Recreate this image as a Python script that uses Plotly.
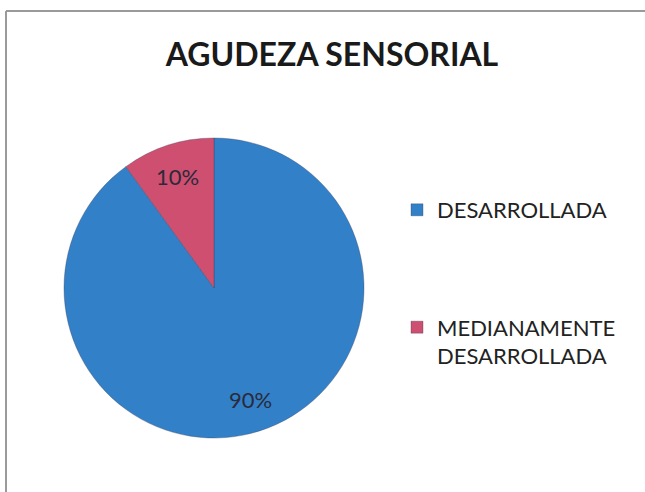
import math
import plotly.graph_objects as go

# Datos del gráfico
categorias = ["DESARROLLADA", "MEDIANAMENTE<br>DESARROLLADA"]
porcentajes = [90, 10]
colores = ["#3180c8", "#cf4f70"]

ANCHO, ALTO = 645, 492
FUENTE = "Lato, Open Sans, sans-serif"


def px_x(v):
    return v / ANCHO


def px_y(v):
    return 1 - v / ALTO


# Geometría del pastel (píxeles)
cx, cy, radio = 214, 288, 150

fig = go.Figure()

fig.add_trace(go.Pie(
    labels=[c if i else c + "<br> <br> <br> " for i, c in enumerate(categorias)],
    values=porcentajes,
    sort=False,
    direction="clockwise",
    rotation=0,
    marker=dict(colors=colores, line=dict(color="rgba(60,60,90,0.35)", width=1)),
    textinfo="none",
    hoverinfo="percent",
    domain=dict(x=[px_x(cx - radio), px_x(cx + radio)],
                y=[px_y(cy + radio), px_y(cy - radio)]),
))

# Etiquetas de porcentaje en el punto medio angular de cada sector
total = sum(porcentajes)
acum = 0
for v in porcentajes:
    medio = (acum + v / 2) / total * 360  # grados desde las 12, sentido horario
    acum += v
    r = 0.78 * radio
    x = cx + r * math.sin(math.radians(medio))
    y = cy - r * math.cos(math.radians(medio))
    fig.add_annotation(
        x=px_x(x), y=px_y(y), xref="paper", yref="paper",
        xanchor="center", yanchor="middle",
        text=f"{v / total:.0%}", showarrow=False,
        font=dict(family=FUENTE, size=22, color="#2a2a3a"),
    )

# Marco del área del gráfico (bordes superior e izquierdo visibles)
fig.add_shape(type="line", xref="paper", yref="paper",
              x0=px_x(6), x1=1.05, y0=px_y(11), y1=px_y(11),
              line=dict(color="#9a9a9a", width=2))
fig.add_shape(type="line", xref="paper", yref="paper",
              x0=px_x(6), x1=px_x(6), y0=-0.05, y1=px_y(11),
              line=dict(color="#9a9a9a", width=2))

fig.update_layout(
    width=ANCHO,
    height=ALTO,
    title=dict(
        text="<b>AGUDEZA SENSORIAL</b>",
        font=dict(family=FUENTE, size=32, color="#1a1a1a"),
        x=px_x(332), xanchor="center",
        y=px_y(55), yanchor="middle",
    ),
    legend=dict(
        x=px_x(397), xanchor="left",
        y=px_y(189), yanchor="top",
        valign="top",
        font=dict(family=FUENTE, size=22, color="#222222"),
        itemwidth=30,
        bgcolor="rgba(0,0,0,0)",
    ),
    paper_bgcolor="white",
    plot_bgcolor="white",
    margin=dict(l=0, r=0, t=0, b=0),
)

fig.write_html(
    "out.html",
    config={"displayModeBar": False},
    post_script="document.body.style.margin='0';",
)
